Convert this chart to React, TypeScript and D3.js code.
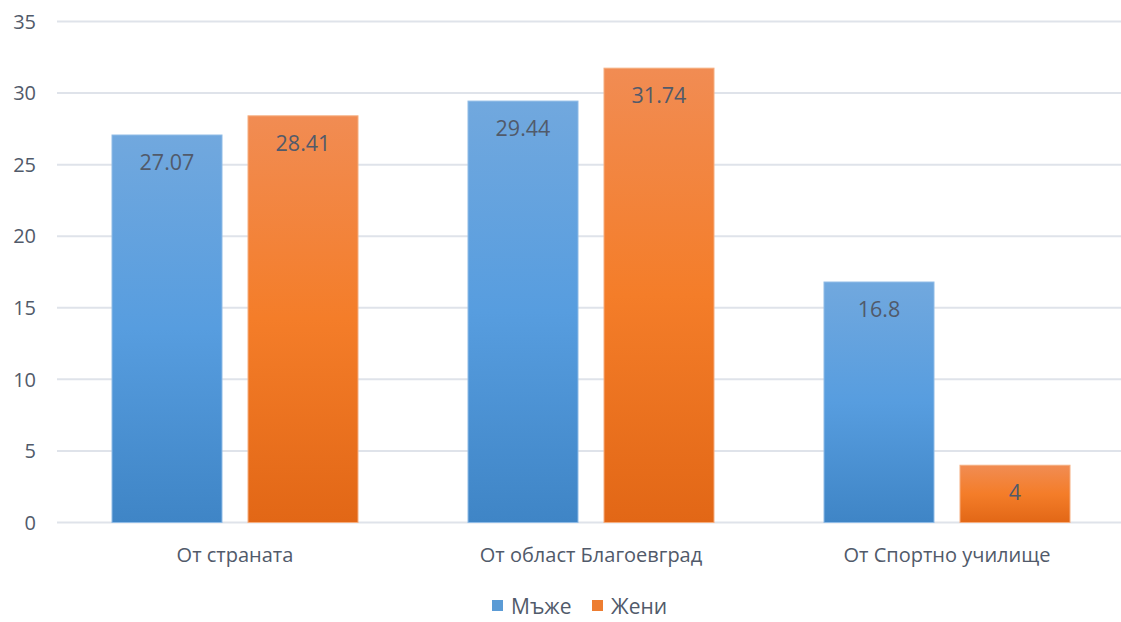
import React from "react";
import * as d3 from "d3";

const categories = ["От страната", "От област Благоевград", "От Спортно училище"];
const seriesNames = ["Мъже", "Жени"];
const men = [27.07, 29.44, 16.8];
const women = [28.41, 31.74, 4];
const yTicks = [0, 5, 10, 15, 20, 25, 30, 35];

const W = 1121;
const H = 622;
const FONT = "'Open Sans', 'Noto Sans', sans-serif";
const TEXT = "#515a6a";

export default function App() {
  const x = d3.scaleBand<string>().domain(categories).range([57, 1125]).paddingInner(0).paddingOuter(0);
  const x1 = d3.scaleBand<string>().domain(seriesNames).range([55, x.bandwidth() - 55]).paddingInner(26 / 136).paddingOuter(0);
  const y = d3.scaleLinear().domain([0, 35]).range([522.5, 21.5]);
  const series = [men, women];
  const grads = ["gBlue", "gOrange"];
  const borders = ["#8fbbe6", "#f5ae80"];
  const legendColors = ["#5b9bd5", "#ed7d31"];

  return (
    <svg width={W} height={H} style={{ position: "absolute", left: 0, top: 0, background: "#fff" }} fontFamily={FONT}>
      <defs>
        <linearGradient id="gBlue" x1="0" y1="0" x2="0" y2="1">
          <stop offset="0" stopColor="#71a8de" />
          <stop offset="0.5" stopColor="#579ddf" />
          <stop offset="1" stopColor="#3f85c6" />
        </linearGradient>
        <linearGradient id="gOrange" x1="0" y1="0" x2="0" y2="1">
          <stop offset="0" stopColor="#f18c53" />
          <stop offset="0.5" stopColor="#f47d29" />
          <stop offset="1" stopColor="#e26716" />
        </linearGradient>
      </defs>
      <rect x={0} y={0} width={W} height={H} fill="#fff" />
      {yTicks.map((t) => (
        <g key={t}>
          <line x1={57} x2={1121} y1={y(t)} y2={y(t)} stroke="#dfe3ea" strokeWidth={2} />
          <text x={36} y={y(t)} dy="0.36em" textAnchor="end" fontSize={20} fill={TEXT}>
            {t}
          </text>
        </g>
      ))}
      {categories.map((c, ci) => (
        <g key={c} transform={`translate(${x(c)},0)`}>
          {series.map((s, si) => {
            const bx = x1(seriesNames[si])!;
            const bw = x1.bandwidth();
            const top = y(s[ci]);
            return (
              <g key={si}>
                <rect x={bx} y={top} width={bw} height={y(0) - top} fill={`url(#${grads[si]})`} stroke={borders[si]} strokeWidth={1} />
                <text x={bx + bw / 2} y={top + 27} dy="0.36em" textAnchor="middle" fontSize={21.5} fill={TEXT}>
                  {s[ci]}
                </text>
              </g>
            );
          })}
          <text x={x.bandwidth() / 2} y={555} dy="0.36em" textAnchor="middle" fontSize={20} fill={TEXT}>
            {c}
          </text>
        </g>
      ))}
      {seriesNames.map((n, i) => {
        const lx = [492, 592][i];
        return (
          <g key={n}>
            <rect x={lx} y={600} width={11} height={11} fill={legendColors[i]} />
            <text x={lx + 19} y={606} dy="0.36em" fontSize={21} fill={TEXT}>
              {n}
            </text>
          </g>
        );
      })}
    </svg>
  );
}
